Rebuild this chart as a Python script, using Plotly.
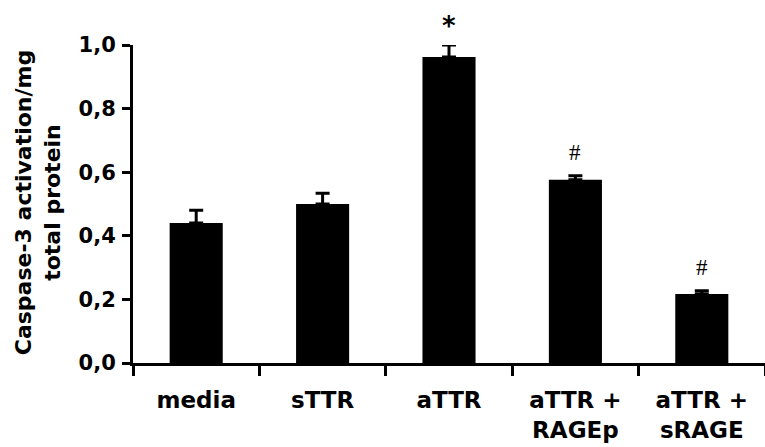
import plotly.graph_objects as go

categories = ["media", "sTTR", "aTTR", "aTTR +<br>RAGEp", "aTTR +<br>sRAGE"]
values = [0.44, 0.50, 0.962, 0.576, 0.217]
errors = [0.040, 0.034, 0.038, 0.013, 0.010]
marks = ["", "", "*", "#", "#"]
mark_y = [0, 0, 1.06, 0.663, 0.299]
y_ticks = [0.0, 0.2, 0.4, 0.6, 0.8, 1.0]
y_ticktext = ["0,0", "0,2", "0,4", "0,6", "0,8", "1,0"]

FONT = "DejaVu Sans"

fig = go.Figure()
fig.add_trace(go.Bar(
    x=categories, y=values,
    marker=dict(color="black", line=dict(width=0)),
    width=0.42,
    error_y=dict(type="data", symmetric=False, array=errors,
                 arrayminus=[0] * len(errors),
                 color="black", thickness=3, width=7),
))

for c, m, my in zip(categories, marks, mark_y):
    if not m:
        continue
    fig.add_annotation(
        x=c, y=my, yref="paper", text=m, showarrow=False,
        xanchor="center", yanchor="middle",
        font=dict(family=FONT if m == "*" else "Liberation Serif",
                  size=26 if m == "*" else 23, color="black",
                  weight="bold" if m == "*" else "normal"),
    )

fig.add_annotation(
    xref="paper", yref="paper", x=-0.150, y=0.503,
    text="<b>Caspase-3 activation/mg<br>total protein</b>",
    textangle=-90, showarrow=False, xanchor="center", yanchor="middle",
    font=dict(family=FONT, size=22, color="black"),
)

fig.update_layout(
    width=765, height=447,
    margin=dict(l=133, r=0, t=45, b=84, autoexpand=False),
    paper_bgcolor="white", plot_bgcolor="white",
    showlegend=False,
    xaxis=dict(
        type="category", tickson="boundaries",
        range=[-0.5, 4.5], automargin=False,
        showline=True, linecolor="black", linewidth=3,
        ticks="outside", ticklen=10, tickwidth=3, tickcolor="black",
        tickfont=dict(family=FONT, size=23, color="black", weight="bold"),
        ticklabelstandoff=14,
        showgrid=False, zeroline=False,
    ),
    yaxis=dict(
        range=[0, 1.0], automargin=False,
        tickvals=y_ticks, ticktext=y_ticktext,
        showline=True, linecolor="black", linewidth=3,
        ticks="outside", ticklen=8, tickwidth=3, tickcolor="black",
        tickfont=dict(family=FONT, size=21, color="black", weight="bold"),
        ticklabelstandoff=2,
        showgrid=False, zeroline=False,
    ),
)

fig.write_html(
    "out.html",
    config={"displayModeBar": False},
    post_script="document.body.style.margin='0';document.body.style.overflow='hidden';",
)
